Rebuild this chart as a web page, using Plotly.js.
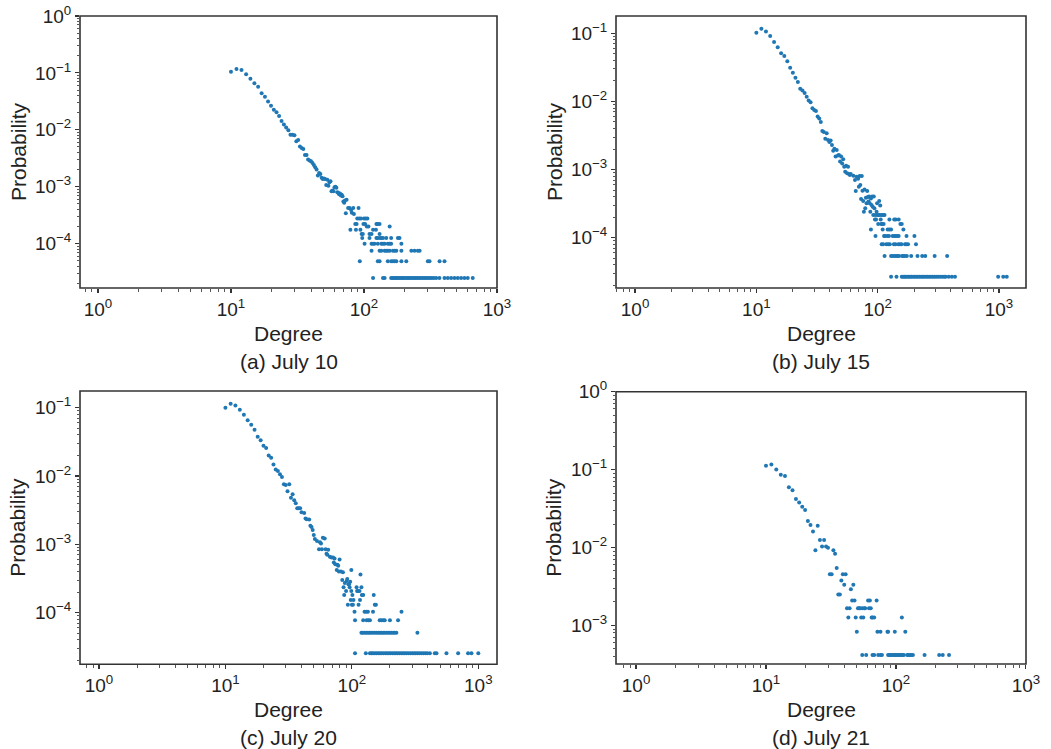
<!DOCTYPE html>
<html><head><meta charset="utf-8">
<script src="https://cdn.plot.ly/plotly-3.0.1.min.js"></script>
<style>html,body{margin:0;padding:0;background:#fff}#chart{width:1051px;height:749px}</style>
</head><body><div id="chart"></div>
<script>
// ---------- Panel (a) July 10 ----------
const aDegree = [10,11,12,13,14,15,16,17,18,19,20,21,22,23,24,25,26,27,28,29,30,31,32,33,34,35,36,37,38,39,40,41,42,43,44,45,46,47,48,49,50,51,52,53,54,55,56,57,58,59,60,61,62,63,64,65,66,67,68,69,70,71,72,73,74,76,78,80,81,83,84,91];
const aProb = [0.105,0.117,0.113,0.095,0.079,0.066,0.057,0.044,0.038,0.0315,0.0265,0.0225,0.0203,0.0175,0.0143,0.0124,0.011,0.0098,0.0082,0.0082,0.0080,0.0063,0.0066,0.0051,0.0048,0.0046,0.0036,0.0036,0.0030,0.0029,0.0028,0.0026,0.0024,0.0022,0.0020,0.00158,0.00174,0.00168,0.00143,0.00137,0.0014,0.00137,0.00107,0.00132,0.00104,0.0012,0.00125,0.00083,0.00086,0.00083,0.00098,0.0010,0.00096,0.0008,0.00078,0.00074,0.00076,0.0007,0.00072,0.00068,0.00055,0.00052,0.00057,0.00034,0.00059,0.000424,0.000424,0.00039,0.00035,0.000424,0.00033,0.000424];
const aTailProb = [2.75e-4,2.22e-4,2.0e-4,1.76e-4,1.48e-4,1.26e-4,9.9e-5,7.5e-5,4.9e-5,2.49e-5];
const aTailDegree = [
 [89,92,95,100,103,106],
 [86,88,99,102,124,127,131],
 [105,108,156],
 [79,87,94,117,123],
 [96,98,110,114,131],
 [97,110,124,127,132,135,139,147,160,180,185],
 [101,114,117,120,127,135,139,143,151,156,160,191],
 [114,131,135,143,147,151,156,165,170,175,191,227,240,254,262],
 [93,127,131,151,160,165,170,175,191,208,302,311,370,403],
 [117,139,143,160,164,168,172,176,180,185,190,195,200,206,212,218,224,231,238,245,252,260,268,276,285,294,303,313,323,335,349,369,403,427,452,479,507,537,569,603,657]
];

// ---------- Panel (b) July 15 ----------
const bDegree = [10,11,12,13,14,15,16,17,18,19,20,21,22,23,24,25,26,27,28,29,30,31,32,33,34,
 35,36,37,38,39,40,41,42,43,44,45,46,47,48,49,50,51,52,53,54,55,56,57,58,59,60,
 63,67,71,74,65,69,70,72,66,75,78,82,73,76,80,83,85,88,90,93,81,84,86,89,91,79,94,99,103,105,77,87,98];
const bProb = [0.102,0.117,0.106,0.091,0.0746,0.0622,0.0508,0.0465,0.0388,0.0313,0.0264,0.0223,0.0193,0.0154,0.0144,0.0133,0.0117,0.0103,0.0097,0.0079,0.0075,0.0072,0.0060,0.0056,0.0050,
 0.00368,0.00356,0.00284,0.0034,0.00272,0.00254,0.00266,0.00229,0.00189,0.00202,0.00155,0.00194,0.0016,0.00163,0.00131,0.00155,0.00123,0.00141,0.0011,0.00093,0.00114,0.00088,0.0011,0.00086,0.00083,0.00086,
 8.1e-4,7.85e-4,8.0e-4,8.0e-4,7.0e-4,7.3e-4,5.6e-4,5.9e-4,4.83e-4,4.88e-4,5.1e-4,4.83e-4,3.69e-4,3.45e-4,3.85e-4,3.93e-4,4.0e-4,3.75e-4,4.0e-4,4.0e-4,3.2e-4,3.4e-4,3.2e-4,3.0e-4,2.85e-4,2.69e-4,2.69e-4,3.2e-4,3.45e-4,2.95e-4,2.4e-4,2.4e-4,2.4e-4];
const bTailProb = [2.15e-4,1.85e-4,1.58e-4,1.32e-4,1.06e-4,7.96e-5,5.37e-5,2.67e-5];
const bTailDegree = [
 [92,96,100,102,104,108,111,114],
 [95,97,106,125,137,141,149],
 [101,107,109,112,154,158],
 [88,110,121,125,129,163],
 [96,113,115,120,124,133,137,141,145,149,173,201],
 [108,111,118,122,126,136,140,148,153,157,168,172,178,207],
 [114,129,133,138,142,146,150,159,163,167,174,189,213,233,247,295,374],
 [129,143,158,162,166,170,175,180,185,190,196,202,208,214,221,228,235,242,250,258,266,275,284,294,304,315,327,340,353,363,385,409,434,985,1085,1160]
];

// ---------- Panel (c) July 20 ----------
const cDegree = [10,11,12,13,14,15,16,17,18,19,20,21,22,23,24,25,26,27,28,29,30,31,32,33,34,35,36,37,38,39,40,
 42,43,44,46,47,48,49,50,51,53,56,57,59,61,55,58,62,65,63,64,67,69,71,73,72,74,77,78,80,76,79,82,85,99,117,
 84,91,92,97,88,94,95];
const cProb = [0.1,0.1145,0.108,0.0935,0.079,0.0653,0.0564,0.0477,0.0377,0.0333,0.0278,0.0257,0.02,0.0185,0.0147,0.0125,0.0118,0.0106,0.0097,0.0076,0.0074,0.006,0.0076,0.0048,0.0054,0.0044,0.004,0.00336,0.00336,0.00336,0.00294,
 0.00288,0.00238,0.00232,0.0023,0.00187,0.0018,0.00162,0.00137,0.0012,0.00112,0.00107,0.00103,0.00125,0.00122,8.5e-4,8.5e-4,8.5e-4,8.35e-4,7.26e-4,7.05e-4,6.6e-4,6.4e-4,6.4e-4,6.2e-4,5.4e-4,5.1e-4,5.0e-4,4.87e-4,6.0e-4,4.2e-4,4.0e-4,4.0e-4,3.9e-4,4.2e-4,3.6e-4,
 3.0e-4,2.9e-4,3.1e-4,2.84e-4,2.72e-4,2.6e-4,2.6e-4];
const cTailProb = [2.35e-4,2.07e-4,1.81e-4,1.53e-4,1.3e-4,1.03e-4,7.7e-5,5.09e-5,2.54e-5];
const cTailDegree = [
 [86,96,109,119],
 [90,99,110,112,115],
 [87,101,120,123,149],
 [98,103,116],
 [93,100,102,113,152,155],
 [105,126,130,134,147,247],
 [106,123,131,135,139,166,171,177,182,200,232],
 [119,122,126,130,134,138,142,147,152,157,162,167,172,177,182,188,194,200,206,212,218,225,330],
 [106,129,139,143,147,152,157,162,167,172,178,184,190,196,202,209,216,223,230,238,246,254,262,271,280,290,300,310,320,331,342,355,368,381,395,414,453,467,560,693,830,883,1000]
];

// ---------- Panel (d) July 21 ----------
const dDegree = [10,11,12,13,14,15,16,17,18,19,20,21,22,23,24,25,26,27,28,29,30,31,32,33,34,35,36,37,38,39,40,41,42,43,44,45,46,47,48,49,50,51,52,53,54,55,56,57,58,
 61,62,63,64,65,66,68,71,72,76,86,87,98,111,118];
const dProb = [0.112,0.116,0.1,0.0862,0.083,0.0593,0.0542,0.042,0.0377,0.0334,0.0303,0.0219,0.0194,0.0161,0.0092,0.019,0.0125,0.0103,0.0125,0.0103,0.0099,0.00455,0.00455,0.0092,0.0083,0.00545,0.0025,0.0025,0.00378,0.00455,0.00332,0.00455,0.00166,0.00126,0.00166,0.00292,0.00209,0.00332,0.00209,0.00126,0.00083,0.00166,0.00166,0.00166,0.00126,0.00166,0.00126,0.00166,0.00166,
 0.00209,0.00166,0.00209,0.00166,0.00126,0.00126,0.00126,0.00209,0.00083,0.00083,0.00083,0.00083,0.00083,0.00126,0.00083];
const dTailProb = [4.18e-4];
const dTailDegree = [[55,59,66,68,73,76,78,87,89,91,93,96,98,100,102,105,107,110,112,115,122,125,128,131,135,166,215,229,256]];

// ---------- Tick labels & captions ----------
const xTickVals = [1,10,100,1000];
const xTickText = ['10<sup>0</sup>','10<sup>1</sup>','10<sup>2</sup>','10<sup>3</sup>'];
const yTickVals = [1,0.1,0.01,0.001,0.0001];
const yTickText = ['10<sup>0</sup>','10<sup>\u22121</sup>','10<sup>\u22122</sup>','10<sup>\u22123</sup>','10<sup>\u22124</sup>'];
const captions = ['(a) July 10','(b) July 15','(c) July 20','(d) July 21'];
const xTitle = 'Degree', yTitle = 'Probability';

// ---------- build ----------
function series(deg, prob, tailProb, tailDeg) {
  const x = deg.slice(), y = prob.slice();
  tailDeg.forEach((row, i) => row.forEach(k => { x.push(k); y.push(tailProb[i]); }));
  return {x, y};
}
const panels = [
  series(aDegree, aProb, aTailProb, aTailDegree),
  series(bDegree, bProb, bTailProb, bTailDegree),
  series(cDegree, cProb, cTailProb, cTailDegree),
  series(dDegree, dProb, dTailProb, dTailDegree)
];

const FONT = '"Liberation Sans", Arial, Helvetica, sans-serif';
const W = 1051, H = 749;
// plot boxes in pixels [left, right, top, bottom]
const boxes = [[80,497,16,288],[616,1026,16,288],[80,497,391,664.3],[616,1026,391.7,664]];
const xRanges = [[-0.135,3.0],[-0.157,3.223],[-0.150,3.148],[-0.154,3.0005]];
const yRanges = [[-4.78,0],[-4.74,-0.746],[-4.757,-0.755],[-3.495,0]];

const minorVals = [];
for (let e = -6; e <= 3; e++) for (let m = 2; m <= 9; m++) minorVals.push(m * Math.pow(10, e));

const traces = panels.map((p, i) => ({
  type: 'scatter', mode: 'markers', x: p.x, y: p.y,
  xaxis: i === 0 ? 'x' : 'x' + (i + 1), yaxis: i === 0 ? 'y' : 'y' + (i + 1),
  marker: {size: 4, color: '#1f77b4', line: {width: 0}},
  hoverinfo: 'x+y', showlegend: false
}));

const layout = {
  width: W, height: H, margin: {l: 0, r: 0, t: 0, b: 0},
  paper_bgcolor: '#fff', plot_bgcolor: '#fff', showlegend: false,
  font: {family: FONT, size: 19, color: '#222'},
  annotations: [], shapes: []
};
const axCommon = {
  type: 'log', showgrid: false, zeroline: false, showline: false,
  ticks: 'outside', ticklen: 4, tickwidth: 1.1, tickcolor: '#333',
  tickmode: 'array', tickfont: {family: FONT, size: 19, color: '#222'}, automargin: false, fixedrange: true,
  minor: {tickmode: 'array', tickvals: minorVals, ticks: 'outside', ticklen: 2.5, tickwidth: 0.9, tickcolor: '#444', showgrid: false}
};
boxes.forEach((b, i) => {
  const sfx = i === 0 ? '' : String(i + 1);
  const xd = [b[0] / W, b[1] / W], yd = [(H - b[3]) / H, (H - b[2]) / H];
  layout['xaxis' + sfx] = Object.assign({}, axCommon, {domain: xd, range: xRanges[i], anchor: 'y' + sfx,
    tickvals: xTickVals, ticktext: xTickText});
  layout['yaxis' + sfx] = Object.assign({}, axCommon, {domain: yd, range: yRanges[i], anchor: 'x' + sfx,
    tickvals: yTickVals, ticktext: yTickText});
  layout.shapes.push({type: 'rect', xref: 'x' + sfx + ' domain', yref: 'y' + sfx + ' domain',
    x0: 0, x1: 1, y0: 0, y1: 1, line: {color: '#333', width: 1.6}, fillcolor: 'rgba(0,0,0,0)', layer: 'above'});
  const cx = (b[0] + b[1]) / 2;
  layout.annotations.push({text: xTitle, xref: 'paper', yref: 'paper', x: cx / W, y: (H - (b[3] + 45)) / H,
    xanchor: 'center', yanchor: 'middle', showarrow: false, font: {family: FONT, size: 21, color: '#222'}});
  layout.annotations.push({text: captions[i], xref: 'paper', yref: 'paper', x: cx / W, y: (H - (b[3] + 73.5)) / H,
    xanchor: 'center', yanchor: 'middle', showarrow: false, font: {family: FONT, size: 21, color: '#222'}});
  layout.annotations.push({text: yTitle, xref: 'paper', yref: 'paper', x: (b[0] - 62) / W, y: (H - (b[2] + b[3]) / 2) / H,
    xanchor: 'center', yanchor: 'middle', textangle: -90, showarrow: false, font: {family: FONT, size: 21, color: '#222'}});
});

Plotly.newPlot('chart', traces, layout, {staticPlot: true, displayModeBar: false});
</script></body></html>
